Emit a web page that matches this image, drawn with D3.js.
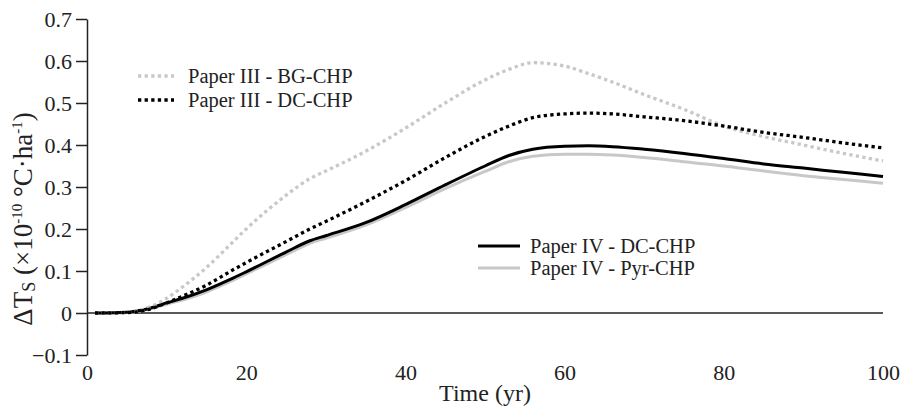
<!DOCTYPE html>
<html>
<head>
<meta charset="utf-8">
<script src="https://cdn.jsdelivr.net/npm/d3@7"></script>
<style>
  body { margin: 0; background: #fff; }
  text { font-family: "Liberation Serif", "Times New Roman", serif; fill: #222; }
</style>
</head>
<body>
<div id="chart"></div>
<script>
// Time grid (yr) shared by all series
const years = [1, 5, 8, 10, 12, 15, 18, 20, 25, 28, 30, 35, 40, 45, 50, 53, 56, 60, 63, 66, 70, 75, 80, 85, 90, 95, 100];

// Series values (x10^-10 °C·ha^-1)
const bgChpIII  = [0, 0.002, 0.015, 0.035, 0.062, 0.108, 0.163, 0.2, 0.28, 0.32, 0.338, 0.385, 0.44, 0.5, 0.555, 0.58, 0.596, 0.588, 0.57, 0.55, 0.52, 0.485, 0.445, 0.42, 0.4, 0.38, 0.362];
const dcChpIII  = [0, 0.001, 0.01, 0.024, 0.04, 0.066, 0.099, 0.12, 0.17, 0.2, 0.218, 0.265, 0.315, 0.37, 0.42, 0.445, 0.465, 0.474, 0.476, 0.474, 0.467, 0.458, 0.445, 0.43, 0.418, 0.405, 0.393];
const dcChpIV   = [0, 0.002, 0.012, 0.024, 0.035, 0.055, 0.08, 0.098, 0.145, 0.172, 0.184, 0.215, 0.258, 0.305, 0.35, 0.375, 0.39, 0.397, 0.398, 0.396, 0.39, 0.38, 0.368, 0.355, 0.345, 0.335, 0.325];
const pyrChpIV  = [0, 0.001, 0.01, 0.021, 0.031, 0.05, 0.075, 0.093, 0.139, 0.166, 0.178, 0.209, 0.251, 0.296, 0.337, 0.36, 0.373, 0.378, 0.378, 0.376, 0.37, 0.36, 0.35, 0.338, 0.327, 0.318, 0.309];

const seriesNames = ['Paper III - BG-CHP', 'Paper III - DC-CHP', 'Paper IV - DC-CHP', 'Paper IV - Pyr-CHP'];
const yTicks = [-0.1, 0, 0.1, 0.2, 0.3, 0.4, 0.5, 0.6, 0.7];
const xTicks = [0, 20, 40, 60, 80, 100];

// Layout
const WIDTH = 904, HEIGHT = 410;
const MARGIN = {top: 19, right: 21, bottom: 55, left: 87};
const GRAY = '#c8c8c8';
const DOT = '3.3,3.3';

const svg = d3.select('#chart').append('svg')
  .attr('width', WIDTH)
  .attr('height', HEIGHT);

const x = d3.scaleLinear().domain([0, 100]).range([MARGIN.left, WIDTH - MARGIN.right]);
const y = d3.scaleLinear().domain([-0.1, 0.7]).range([HEIGHT - MARGIN.bottom, MARGIN.top]);

// Series styles
const series = [
  {name: seriesNames[3], values: pyrChpIV, color: GRAY,   dash: null, width: 3},
  {name: seriesNames[2], values: dcChpIV,  color: '#000', dash: null, width: 3},
  {name: seriesNames[0], values: bgChpIII, color: GRAY,   dash: DOT,  width: 3.3},
  {name: seriesNames[1], values: dcChpIII, color: '#000', dash: DOT,  width: 3.3}
];

// Zero line
svg.append('line')
  .attr('x1', x(0)).attr('x2', x(100))
  .attr('y1', y(0)).attr('y2', y(0))
  .attr('stroke', '#222').attr('stroke-width', 1.5);

// Y axis
const yAxis = svg.append('g')
  .attr('transform', `translate(${x(0)},0)`)
  .call(d3.axisLeft(y)
    .tickValues(yTicks)
    .tickSize(11)
    .tickSizeOuter(0)
    .tickPadding(4)
    .tickFormat(d => d === 0 ? '0' : d3.format('.1f')(d)));
yAxis.select('.domain').attr('stroke', '#222').attr('stroke-width', 1.5);
yAxis.selectAll('.tick line').attr('stroke', '#222').attr('stroke-width', 1.5);
yAxis.selectAll('.tick text').attr('font-size', 22).attr('font-family', '"Liberation Serif", serif').attr('fill', '#333');

// X axis (labels only)
const xAxis = svg.append('g')
  .attr('transform', `translate(0,${y(-0.1)})`)
  .call(d3.axisBottom(x).tickValues(xTicks).tickSize(0).tickPadding(9));
xAxis.select('.domain').remove();
xAxis.selectAll('.tick text').attr('font-size', 22).attr('font-family', '"Liberation Serif", serif').attr('fill', '#333');

// Lines
const line = d3.line()
  .x((d, i) => x(years[i]))
  .y(d => y(d))
  .curve(d3.curveMonotoneX);

svg.append('g').selectAll('path')
  .data(series)
  .enter()
  .append('path')
  .attr('d', d => line(d.values))
  .attr('fill', 'none')
  .attr('stroke', d => d.color)
  .attr('stroke-width', d => d.width)
  .attr('stroke-dasharray', d => d.dash);

// Legends
const legends = [
  {x: 138, y: 76,  gap: 24, items: [series[2], series[3]]},
  {x: 478, y: 246, gap: 22, items: [series[1], series[0]]}
];
legends.forEach(lg => {
  const g = svg.append('g').attr('transform', `translate(${lg.x},${lg.y})`);
  lg.items.forEach((s, i) => {
    g.append('line')
      .attr('x1', 0).attr('x2', s.dash ? 36 : 42)
      .attr('y1', i * lg.gap).attr('y2', i * lg.gap)
      .attr('stroke', s.color)
      .attr('stroke-width', s.width)
      .attr('stroke-dasharray', s.dash);
    g.append('text')
      .attr('x', s.dash ? 50 : 52)
      .attr('y', i * lg.gap)
      .attr('dy', '0.33em')
      .attr('font-size', 20.5)
      .text(s.name);
  });
});

// Axis titles
svg.append('text')
  .attr('x', (x(0) + x(100)) / 2)
  .attr('y', 401)
  .attr('text-anchor', 'middle')
  .attr('font-size', 24)
  .text('Time (yr)');

const yTitle = svg.append('text')
  .attr('transform', `translate(32,219)rotate(-90)`)
  .attr('text-anchor', 'middle')
  .attr('font-size', 27);
yTitle.append('tspan').text('ΔT');
yTitle.append('tspan').attr('font-size', 18).attr('dy', 3).text('S');
yTitle.append('tspan').attr('dy', -3).text(' (×10');
yTitle.append('tspan').attr('font-size', 15).attr('dy', -10).text('-10');
yTitle.append('tspan').attr('dy', 10).text(' °C·ha');
yTitle.append('tspan').attr('font-size', 15).attr('dy', -10).text('-1');
yTitle.append('tspan').attr('dy', 10).text(')');
</script>
</body>
</html>
